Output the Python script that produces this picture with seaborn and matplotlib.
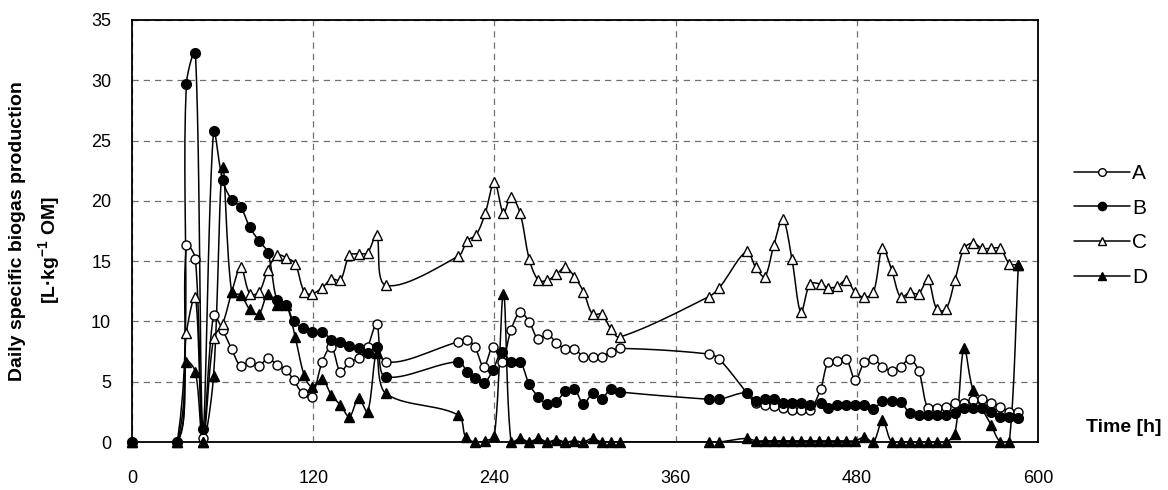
import numpy as np
import pandas as pd
import matplotlib
matplotlib.use("Agg")
import matplotlib.pyplot as plt
from matplotlib.lines import Line2D
import seaborn as sns

# ---------------- data ----------------
time_A = [0, 30, 36, 42, 47, 54, 60, 66, 72, 78, 84, 90, 96, 102, 107, 113, 119, 126, 132, 138, 144, 150, 156, 162, 168,
          216, 222, 227, 233, 239, 245, 251, 257, 263, 269, 275, 281, 287, 293, 299, 305, 311, 317, 323,
          382, 389, 407, 413, 419, 425, 431, 437, 443, 449, 456, 461, 467, 473, 479, 485, 491, 497, 503, 509,
          515, 521, 527, 533, 539, 545, 551, 557, 563, 569, 575, 581, 587]
val_A = [0, 0, 16.3, 15.2, 0.3, 10.5, 9.3, 7.7, 6.3, 6.66, 6.3, 6.94, 6.4, 5.97, 5.14, 4.03, 3.76, 6.66, 7.9, 5.83, 6.66, 6.94, 7.9, 9.76, 6.66,
         8.3, 8.5, 7.9, 6.25, 7.9, 6.66, 9.29, 10.75, 9.98, 8.54, 8.93, 8.24, 7.71, 7.71, 7.07, 7.07, 7.07, 7.5, 7.77,
         7.3, 6.86, 4.1, 3.2, 3.07, 3.0, 2.8, 2.65, 2.65, 2.65, 4.37, 6.6, 6.75, 6.88, 5.14, 6.6, 6.88, 6.25, 5.91, 6.25,
         6.88, 5.91, 2.8, 2.8, 2.93, 3.2, 3.26, 3.48, 3.54, 3.2, 2.93, 2.51, 2.51]

time_B = [0, 30, 36, 42, 47, 54, 60, 66, 72, 78, 84, 90, 96, 102, 107, 113, 119, 126, 132, 138, 144, 150, 156, 162, 168,
          216, 222, 227, 233, 239, 245, 251, 257, 263, 269, 275, 281, 287, 293, 299, 305, 311, 317, 323,
          382, 389, 407, 413, 419, 425, 431, 437, 443, 449, 456, 461, 467, 473, 479, 485, 491, 497, 503, 509,
          515, 521, 527, 533, 539, 545, 551, 557, 563, 569, 575, 581, 587]
val_B = [0, 0, 29.7, 32.3, 1.1, 25.8, 21.7, 20.1, 19.5, 17.8, 16.7, 15.7, 11.8, 11.4, 10.0, 9.45, 9.1, 9.15, 8.5, 8.3, 8.0, 7.8, 7.35, 7.9, 5.4,
         6.66, 5.83, 5.3, 4.87, 5.97, 7.5, 6.66, 6.66, 4.8, 3.76, 3.15, 3.35, 4.2, 4.37, 3.15, 4.03, 3.6, 4.37, 4.15,
         3.54, 3.54, 4.09, 3.43, 3.54, 3.54, 3.26, 3.2, 3.2, 3.07, 3.26, 2.8, 3.07, 3.07, 3.07, 3.07, 2.7, 3.43, 3.43, 3.35,
         2.38, 2.24, 2.24, 2.24, 2.24, 2.38, 2.8, 2.8, 2.8, 2.51, 2.1, 2.1, 1.97]

time_C = [0, 30, 36, 42, 47, 54, 60, 66, 72, 78, 84, 90, 96, 102, 108, 114, 119, 126, 132, 138, 144, 150, 156, 162, 168,
          216, 222, 228, 234, 240, 246, 251, 257, 263, 269, 275, 281, 287, 293, 299, 305, 311, 317, 323,
          382, 389, 407, 413, 419, 425, 431, 437, 443, 449, 456, 461, 467, 473, 479, 485, 491, 497, 503, 509,
          515, 521, 527, 533, 539, 545, 551, 557, 563, 569, 575, 581, 587]
val_C = [0, 0, 9.0, 12.05, 0, 8.6, 9.8, 12.4, 14.5, 12.3, 12.4, 14.3, 15.5, 15.3, 14.8, 12.46, 12.27, 12.8, 13.5, 13.43, 15.5, 15.6, 15.7, 17.2, 13.0,
         15.4, 16.7, 17.2, 19.0, 21.6, 19.0, 20.35, 19.0, 15.2, 13.43, 13.4, 13.9, 14.5, 13.7, 12.46, 10.6, 10.6, 9.4, 8.7,
         12.05, 12.8, 15.8, 14.5, 13.7, 16.3, 18.5, 15.2, 10.75, 13.1, 13.1, 12.8, 12.9, 13.43, 12.4, 12.0, 12.4, 16.06, 14.3, 12.0,
         12.4, 12.3, 13.5, 11.0, 11.0, 13.43, 16.06, 16.5, 16.06, 16.06, 16.06, 14.8, 14.7]

time_D = [0, 30, 36, 42, 47, 54, 60, 66, 72, 78, 84, 90, 96, 102, 108, 114, 119, 126, 132, 138, 144, 150, 156, 162, 168,
          216, 221, 227, 234, 240, 246, 251, 257, 263, 269, 275, 281, 287, 293, 299, 305, 311, 317, 323,
          382, 389, 407, 413, 419, 425, 431, 437, 443, 449, 455, 461, 467, 473, 479, 485, 491, 497, 503, 509,
          515, 521, 527, 533, 539, 545, 551, 557, 569, 575, 581, 587]
val_D = [0, 0, 6.66, 5.83, 0, 5.47, 22.8, 12.4, 12.2, 11.0, 10.6, 12.3, 11.36, 11.4, 8.73, 5.55, 4.59, 5.2, 3.9, 3.07, 2.1, 3.62, 2.51, 7.35, 4.03,
         2.24, 0.4, 0, 0.1, 0.5, 12.3, 0, 0.3, 0, 0.3, 0, 0.2, 0, 0.1, 0, 0.3, 0, 0, 0,
         0, 0, 0.3, 0.1, 0.1, 0.1, 0.1, 0.1, 0.1, 0.1, 0.1, 0.1, 0.1, 0.1, 0.1, 0.4, 0, 1.8, 0, 0,
         0, 0, 0, 0, 0, 0.7, 7.8, 4.3, 1.4, 0, 0, 14.7]

series_names = ["A", "B", "C", "D"]
x_ticks = [0, 120, 240, 360, 480, 600]
y_ticks = [0, 5, 10, 15, 20, 25, 30, 35]

# ---------------- style ----------------
sns.set_theme(style="white")
plt.rcParams["font.family"] = ["Liberation Sans", "DejaVu Sans"]
plt.rcParams["mathtext.fontset"] = "custom"
plt.rcParams["mathtext.rm"] = "Liberation Sans"
plt.rcParams["mathtext.bf"] = "Liberation Sans:bold"
for k in ["text.color", "axes.labelcolor", "xtick.color", "ytick.color"]:
    plt.rcParams[k] = "black"

# approximate screen scale (px per data unit) so smoothing behaves like on screen
SX, SY = 1.51, 12.06


def smooth(t, v, n=14):
    """Excel-like smoothed line: Bezier segments whose control-arm lengths
    are scaled by neighbouring segment lengths (limits overshoot)."""
    P = np.column_stack([np.asarray(t, float) * SX, np.asarray(v, float) * SY])
    m = len(P)
    seglen = np.linalg.norm(np.diff(P, axis=0), axis=1)
    out = [P[0]]
    for i in range(m - 1):
        p1, p2 = P[i], P[i + 1]
        if i > 0:
            d = P[i + 1] - P[i - 1]
            w = seglen[i] / (seglen[i - 1] + seglen[i] + 1e-9)
            c1 = p1 + d * w / 3.0
        else:
            c1 = p1 + (p2 - p1) / 3.0
        if i + 2 < m:
            d = P[i + 2] - P[i]
            w = seglen[i] / (seglen[i] + seglen[i + 1] + 1e-9)
            c2 = p2 - d * w / 3.0
        else:
            c2 = p2 - (p2 - p1) / 3.0
        s = np.linspace(0, 1, n)[1:, None]
        seg = ((1 - s) ** 3) * p1 + 3 * ((1 - s) ** 2) * s * c1 + 3 * (1 - s) * s ** 2 * c2 + s ** 3 * p2
        out.extend(seg)
    out = np.array(out)
    return out[:, 0] / SX, out[:, 1] / SY


frames, curves = [], []
for name, t, v in zip(series_names, [time_A, time_B, time_C, time_D], [val_A, val_B, val_C, val_D]):
    frames.append(pd.DataFrame({"time": t, "value": v, "series": name}))
    st, sv = smooth(t, v)
    curves.append(pd.DataFrame({"time": st, "value": sv, "series": name}))
df = pd.concat(frames, ignore_index=True)
dfc = pd.concat(curves, ignore_index=True)

fig = plt.figure(figsize=(11.68, 4.9), dpi=100)
ax = fig.add_axes([132 / 1168, 1 - 442 / 490, (1038 - 132) / 1168, (442 - 20) / 490])

styles = {
    "A": dict(marker="o", markerfacecolor="white", markersize=6.5),
    "B": dict(marker="o", markerfacecolor="black", markersize=7),
    "C": dict(marker="^", markerfacecolor="white", markersize=7.5),
    "D": dict(marker="^", markerfacecolor="black", markersize=7.5),
}
for name in series_names:
    subc = dfc[dfc["series"] == name]
    sns.lineplot(data=subc, x="time", y="value", ax=ax, sort=False, estimator=None,
                 color="black", linewidth=1.1, zorder=3, legend=False)
for name in series_names:
    sub = df[df["series"] == name]
    sns.lineplot(data=sub, x="time", y="value", ax=ax, sort=False, estimator=None,
                 color="black", linestyle="none", markeredgecolor="black", markeredgewidth=1.0,
                 clip_on=False, zorder=4, legend=False, **styles[name])

ax.set_xlim(0, 600)
ax.set_ylim(0, 35)
ax.set_xticks(x_ticks)
ax.set_yticks(y_ticks)
ax.set_xticklabels([str(v) for v in x_ticks], fontsize=13)
ax.set_yticklabels([str(v) for v in y_ticks], fontsize=13)
ax.tick_params(axis="y", direction="out", length=5, width=1, pad=10, colors="black")
ax.tick_params(axis="x", direction="out", length=5, width=1, pad=15, colors="black")
ax.set_xlabel("")
ax.set_ylabel("")
ax.grid(True, linestyle=(0, (5, 4)), color="#707070", linewidth=0.9)
for s in ax.spines.values():
    s.set_color("black")
    s.set_linewidth(1.3)

handles = [Line2D([], [], color="black", linewidth=1.1, markeredgecolor="black",
                  markeredgewidth=1.0, **styles[n]) for n in series_names]
ax.legend(handles, series_names, loc="upper left", bbox_to_anchor=(1074 / 1168, 1 - 164 / 490),
          bbox_transform=fig.transFigure, frameon=False, fontsize=15, handlelength=2.7,
          handletextpad=0.1, labelspacing=0.75, borderpad=0, borderaxespad=0, markerscale=0.85)

fig.text(1124 / 1168, 1 - 427 / 490, "Time [h]", fontsize=14, fontweight="bold",
         ha="center", va="center")
fig.text(18 / 1168, 1 - 231 / 490, "Daily specific biogas production", fontsize=14,
         fontweight="bold", rotation=90, ha="center", va="center")
fig.text(50 / 1168, 1 - 250 / 490, r"[L·kg$^{\mathbf{-1}}$ OM]", fontsize=14,
         fontweight="bold", rotation=90, ha="center", va="center")

fig.savefig("out.png", dpi=100)
